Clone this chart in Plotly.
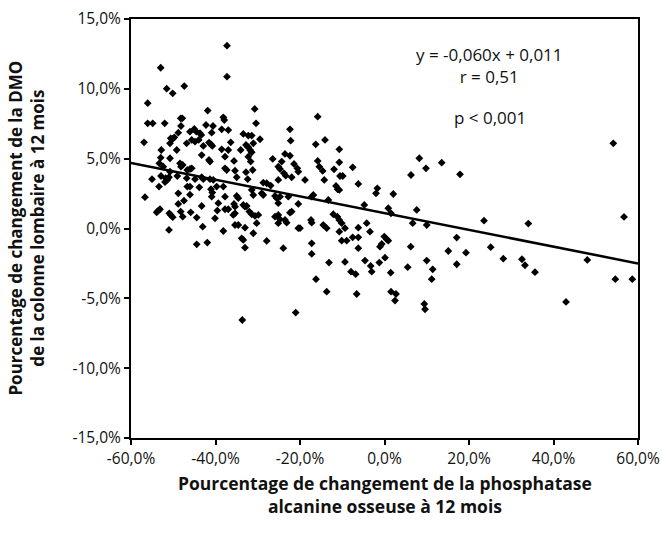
import plotly.graph_objects as go

# Percentage change in bone alkaline phosphatase at 12 months (%)
bap_change = [
    -37.28, -37.28, -52.97, -51.55, -47.39, -50.13, -56.05, -41.85, -30.72, -48.24,
    -47.86, -56.05, -54.86, -52.02, -48.17, -42.25, -40.59, -45.02, -44.54, -46.04,
    -43.67, -43.36, -48.81, -40.90, -56.92, -50.60, -50.13, -49.75, -50.77, -45.63,
    -44.85, -43.98, -46.82, -41.54, -41.07, -40.76, -49.18, -52.83, -42.89, -43.27,
    -52.97, -50.77, -41.54, -41.30, -53.30, -48.40, -47.76, -48.17, -46.68, -46.04,
    -45.63, -52.36, -50.77, -52.90, -55.03, -51.79, -51.41, -51.01, -49.04, -46.82,
    -44.85, -43.27, -42.89, -41.30, -40.52, -53.37, -46.68, -46.04, -43.83, -39.72,
    -51.95, -41.07, -40.76, -40.90, -56.69, -48.81, -46.04, -47.46, -48.81, -43.27,
    -39.34, -53.92, -53.54, -53.14, -50.94, -50.60, -50.13, -48.24, -47.76, -45.87,
    -44.45, -39.57, -40.12, -51.01, -43.03, -44.45, -41.94, -38.53, -36.97, -22.37,
    -33.42, -32.24, -31.43, -22.20, -36.40, -31.05, -29.47, -32.78, -32.24, -31.83,
    -31.43, -38.53, -36.97, -34.04, -37.75, -32.24, -35.62, -31.67, -26.46, -23.55,
    -22.37, -24.33, -37.75, -37.35, -35.38, -32.78, -31.20, -25.14, -24.73, -23.79,
    -23.38, -20.64, -20.40, -34.98, -32.38, -28.69, -27.88, -26.94, -25.14, -21.97,
    -38.15, -38.15, -37.92, -30.41, -29.07, -28.69, -31.43, -31.05, -37.75, -34.98,
    -34.60, -25.92, -25.52, -24.73, -22.77, -35.62, -35.38, -33.42, -33.02, -32.62,
    -25.14, -20.40, -37.75, -36.97, -35.79, -35.38, -32.00, -31.43, -30.65, -29.87,
    -25.92, -25.14, -24.73, -22.37, -21.97, -23.55, -23.15, -35.38, -34.60, -30.25,
    -33.02, -25.14, -20.40, -38.15, -31.05, -33.80, -33.42, -27.88, -33.02, -23.95,
    -33.66, -21.02, -15.81, -16.28, -14.08, -10.70, -21.42, -15.81, -15.43, -14.63,
    -10.70, -11.95, -7.53, -10.53, -9.89, -18.82, -14.25, -11.48, -11.08, -10.70,
    -6.20, -1.70, -2.01, 2.08, -17.23, -16.85, -13.30, -4.78, 0.90, 1.54,
    7.62, -17.40, -17.23, -20.00, -14.49, -13.68, -12.12, -11.17, -10.70, -10.13,
    -9.35, -10.70, -6.20, -4.21, -3.43, -7.53, -6.20, -10.13, -8.95, -0.05,
    0.52, 0.90, -0.66, -1.07, -6.20, -17.23, -17.23, 6.67, 9.99, 6.20,
    -13.14, -9.35, -4.62, -3.27, -3.03, -1.23, 0.12, -7.93, -6.82, 1.47,
    5.49, 9.99, 11.41, 11.17, -16.21, -13.68, -6.58, 1.54, 2.72, 2.49,
    9.42, 9.59, 8.24, 9.82, 13.54, 6.27, 17.87, 17.09, 15.10, 19.29,
    17.09, 28.12, 32.54, 33.25, 35.62, 48.00, 54.63, 58.65, 42.96, 54.15,
    56.69, 23.55, 34.04, 25.14,
]

# Percentage change in lumbar spine BMD at 12 months (%)
bmd_change = [
    13.09, 10.87, 11.51, 10.01, 10.20, 9.68, 8.97, 8.44, 8.56, 7.89,
    7.89, 7.53, 7.53, 7.53, 7.34, 7.41, 7.34, 7.13, 6.93, 6.93,
    6.82, 6.70, 6.86, 6.86, 6.17, 6.46, 6.41, 6.53, 6.10, 6.34,
    6.22, 6.34, 6.10, 6.15, 6.03, 5.91, 5.62, 5.62, 5.91, 5.26,
    5.07, 5.03, 4.91, 4.79, 4.67, 4.67, 4.55, 4.43, 4.19, 4.26,
    4.31, 4.43, 4.07, 3.76, 3.53, 3.60, 3.48, 3.67, 3.76, 3.60,
    3.53, 3.67, 3.53, 3.53, 3.48, 3.00, 3.00, 3.00, 2.95, 3.00,
    3.33, 2.81, 2.57, 2.28, 2.24, 2.52, 2.42, 1.99, 1.76, 1.61,
    1.81, 1.16, 1.28, 1.38, 1.09, 0.97, 0.81, 1.21, 0.85, 1.16,
    0.78, 1.28, 0.73, -0.10, 0.13, -1.13, -1.01, 7.10, 7.05, 7.10,
    6.77, 6.65, 6.65, 6.29, 6.17, 6.10, 6.39, 5.98, 5.82, 5.62,
    5.46, 5.67, 5.62, 5.62, 5.14, 5.14, 4.84, 4.79, 4.98, 5.34,
    5.21, 4.79, 4.31, 4.19, 4.14, 4.03, 4.19, 4.43, 4.26, 3.95,
    3.78, 4.31, 4.07, 3.67, 3.53, 3.28, 3.24, 3.07, 3.48, 3.67,
    3.00, 7.96, 7.77, 7.53, 2.52, 2.40, 2.76, 2.40, 2.28, 2.33,
    2.17, 2.33, 2.17, 2.28, 2.28, 1.76, 1.56, 1.69, 1.56, 1.61,
    1.81, 1.76, 1.38, 1.38, 0.97, 1.09, 1.21, 1.02, 0.90, 0.97,
    0.85, 0.97, 0.66, 1.13, 1.21, 0.61, 0.42, 0.25, 0.25, 0.38,
    0.06, 0.38, 0.02, -0.18, -0.34, -0.70, -0.82, -0.89, -1.37, -1.41,
    -6.55, -6.02, 8.01, 6.03, 6.34, 5.67, 4.62, 4.84, 4.43, 4.12,
    4.74, 4.24, 4.38, 3.76, 3.76, 3.48, 3.48, 3.05, 2.81, 2.76,
    3.19, 2.88, 2.52, 2.47, 2.28, 2.40, 2.04, 1.69, 1.45, 1.09,
    1.33, 0.61, 0.42, 0.02, 0.25, 0.02, 1.02, 0.85, 0.61, 0.38,
    0.02, -0.23, 0.06, 0.38, -0.23, -0.63, -0.63, -0.87, -0.87, -0.58,
    -0.77, -0.87, -1.11, -1.30, -1.41, -1.06, -1.82, 0.38, 0.25, -1.30,
    -2.44, -2.39, -2.30, -2.68, -3.09, -2.44, -2.09, -3.09, -3.27, -3.16,
    -2.77, -2.30, -2.92, -3.63, -3.63, -4.52, -4.69, -4.52, -4.69, -5.16,
    -5.40, -5.78, 5.03, 4.31, 4.71, 3.83, 3.88, -0.65, -1.61, -1.73,
    -2.56, -2.16, -2.20, -2.63, -3.13, -2.25, -3.63, -3.63, -5.26, 6.10,
    0.83, 0.56, 0.35, -1.34,
]

# Regression line (in % units): y = -0.060 x + 1.1
slope = -0.060
intercept = 1.1
line_x = [-60, 60]
line_y = [slope * v + intercept for v in line_x]

x_tickvals = [-60, -40, -20, 0, 20, 40, 60]
x_ticktext = ["-60,0%", "-40,0%", "-20,0%", "0,0%", "20,0%", "40,0%", "60,0%"]
y_tickvals = [-15, -10, -5, 0, 5, 10, 15]
y_ticktext = ["-15,0%", "-10,0%", "-5,0%", "0,0%", "5,0%", "10,0%", "15,0%"]

FONT = "Open Sans"
TXT = "#111"

fig = go.Figure()
fig.add_trace(go.Scatter(
    x=bap_change, y=bmd_change, mode="markers",
    marker=dict(symbol="diamond", size=6, color="black"),
    showlegend=False, hoverinfo="skip",
))
fig.add_trace(go.Scatter(
    x=line_x, y=line_y, mode="lines",
    line=dict(color="black", width=2.5),
    showlegend=False, hoverinfo="skip",
))

axis_common = dict(
    showgrid=False, zeroline=False, showline=True, linecolor="black", linewidth=2,
    mirror=True, ticks="outside", ticklen=5, tickwidth=2, tickcolor="black",
    automargin=False,
    tickfont=dict(family=FONT, size=15.5, color=TXT),
)
fig.update_xaxes(range=[-60, 60], tickvals=x_tickvals, ticktext=x_ticktext, **axis_common)
fig.update_yaxes(range=[-15, 15], tickvals=y_tickvals, ticktext=y_ticktext, **axis_common)

fig.add_annotation(
    text="y = -0,060x + 0,011<br>r = 0,51", x=0.708, y=0.889,
    xref="paper", yref="paper", showarrow=False, xanchor="center", yanchor="middle",
    align="center", font=dict(family=FONT, size=17, color=TXT),
)
fig.add_annotation(
    text="p < 0,001", x=0.708, y=0.765,
    xref="paper", yref="paper", showarrow=False, xanchor="center", yanchor="middle",
    font=dict(family=FONT, size=17, color=TXT),
)

fig.add_annotation(
    text="<b>Pourcentage de changement de la phosphatase<br>alcanine osseuse à 12 mois</b>",
    x=0.5, y=-0.136, xref="paper", yref="paper", showarrow=False,
    xanchor="center", yanchor="middle", align="center",
    font=dict(family=FONT, size=17.5, color=TXT),
)
fig.add_annotation(
    text="<b>Pourcentage de changement de la DMO<br>de la colonne lombaire à 12 mois</b>",
    x=-0.207, y=0.5, xref="paper", yref="paper", showarrow=False, textangle=-90,
    xanchor="center", yanchor="middle", align="center",
    font=dict(family=FONT, size=17, color=TXT),
)

fig.update_layout(
    width=662, height=534,
    margin=dict(l=131, r=24, t=19, b=96),
    paper_bgcolor="white", plot_bgcolor="white",
)
fig.write_html("out.html")
